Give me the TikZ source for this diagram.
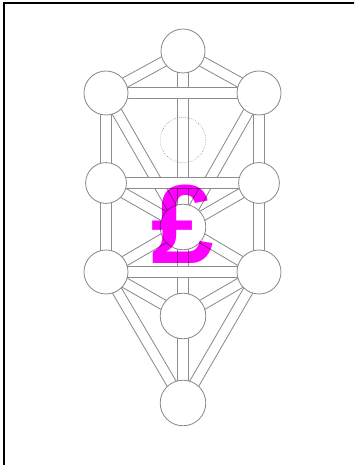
\documentclass[tikz,border=0pt]{standalone}
\usepackage{fontspec}
\newfontfamily\poundfont{Liberation Sans}
\usepackage{xcolor}
\definecolor{lineGray}{RGB}{140,140,140}
\definecolor{poundPink}{RGB}{255,0,255}
\usepackage{tikz}
\usetikzlibrary{positioning,calc}
\tikzstyle{sephira}=[circle, draw=lineGray, fill=white, minimum size=1.1cm, inner sep=0pt, line width=0.6pt]
\tikzstyle{channel}=[draw=lineGray, fill=white, line width=0.6pt]
% a path of the tree: white band with grey edges
\newcommand{\treepath}[2]{%
  \draw[channel] ($(#1)!0.13cm!90:(#2)$) -- ($(#2)!0.13cm!-90:(#1)$)
    -- ($(#2)!0.13cm!90:(#1)$) -- ($(#1)!0.13cm!-90:(#2)$) -- cycle;}

\begin{document}
\begin{tikzpicture}
        \useasboundingbox (0,0) rectangle (8.85,11.625);
        \clip (0,0) rectangle (8.85,11.625);
        % frame
        \draw[line width=1.4pt] (0.11,-1) rectangle (10,11.54);

        % sephiroth
        \coordinate (kether) at (4.575,10.35);
        \coordinate (chokmah) at (6.475,9.3);
        \coordinate (binah) at (2.65,9.3);
        \coordinate (daath) at (4.575,8.125);
        \coordinate (chesed) at (6.475,7.05);
        \coordinate (geburah) at (2.65,7.05);
        \coordinate (tiphareth) at (4.575,5.95);
        \coordinate (netzach) at (6.475,4.825);
        \coordinate (hod) at (2.65,4.825);
        \coordinate (yesod) at (4.575,3.725);
        \coordinate (malkuth) at (4.575,1.55);

        % paths
        \treepath{kether}{tiphareth}
        \treepath{tiphareth}{yesod}
        \treepath{yesod}{malkuth}
        \treepath{kether}{chokmah}
        \treepath{kether}{binah}
        \treepath{chokmah}{chesed}
        \treepath{binah}{geburah}
        \treepath{chesed}{netzach}
        \treepath{geburah}{hod}
        \treepath{chokmah}{tiphareth}
        \treepath{binah}{tiphareth}
        \treepath{chesed}{tiphareth}
        \treepath{geburah}{tiphareth}
        \treepath{netzach}{tiphareth}
        \treepath{hod}{tiphareth}
        \treepath{netzach}{yesod}
        \treepath{hod}{yesod}
        \treepath{netzach}{malkuth}
        \treepath{hod}{malkuth}
        \treepath{chokmah}{binah}
        \treepath{chesed}{geburah}
        \treepath{netzach}{hod}

        \node[sephira] (n-kether) at (kether) {};
        \node[sephira] (n-chokmah) at (chokmah) {};
        \node[sephira] (n-binah) at (binah) {};
        \node[sephira, draw=none, fill=none] (n-daath) at (daath) {};
        \draw[lineGray, densely dotted, line width=0.45pt] (daath) circle (0.57);
        \node[sephira, minimum size=1.02cm] (n-chesed) at (chesed) {};
        \node[sephira, minimum size=1.02cm] (n-geburah) at (geburah) {};
        \node[sephira, minimum size=1.14cm] (n-tiphareth) at (tiphareth) {};
        \node[sephira] (n-netzach) at (netzach) {};
        \node[sephira] (n-hod) at (hod) {};
        \node[sephira, minimum size=1.14cm] (n-yesod) at (yesod) {};
        \node[sephira, minimum size=1.14cm] (n-malkuth) at (malkuth) {};

        \begin{scope}[blend mode=multiply]
          \node[text=poundPink, inner sep=0pt, font=\poundfont\bfseries\fontsize{80}{80}\selectfont]
            (pound) at (4.575,6.03) {£};
        \end{scope}
\end{tikzpicture}
\end{document}
